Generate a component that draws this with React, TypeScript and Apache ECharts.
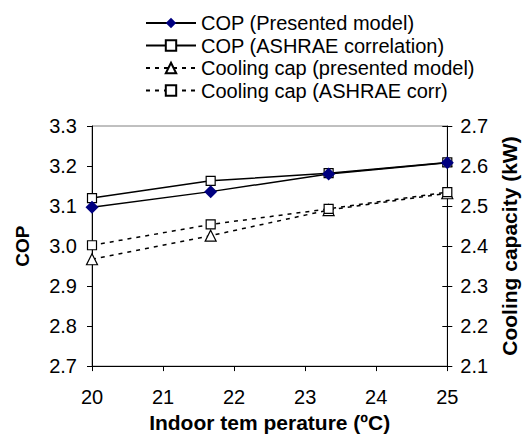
import React, { useEffect, useRef } from "react";
import * as echarts from "echarts";

const xValues = [20, 21.67, 23.33, 25];
const copPresented = [3.097, 3.136, 3.18, 3.208];
const copAshrae = [3.12, 3.163, 3.182, 3.209];
const capPresented = [2.367, 2.426, 2.49, 2.532];
const capAshrae = [2.402, 2.454, 2.493, 2.535];
const seriesNames = [
  "COP (Presented model)",
  "COP (ASHRAE correlation)",
  "Cooling cap (presented model)",
  "Cooling cap (ASHRAE corr)",
];

const FONT = "'Liberation Sans', Arial, sans-serif";
const FS = 20;

export default function App() {
  const ref = useRef<HTMLDivElement>(null);
  useEffect(() => {
    if (!ref.current) return;
    document.body.style.margin = "0";
    const chart = echarts.init(ref.current, undefined, { renderer: "svg" });
    const pair = (ys: number[]) => xValues.map((x, i) => [x, ys[i]]);
    const axisCommon = {
      axisLine: { show: true, lineStyle: { color: "#000", width: 1 } },
      axisTick: { show: true, length: 5, lineStyle: { color: "#000" } },
      splitLine: { show: false },
      axisLabel: { color: "#000", fontSize: FS, fontFamily: FONT },
      nameTextStyle: { color: "#000", fontSize: 21, fontWeight: "bold", fontFamily: FONT },
    };
    chart.setOption({
      animation: false,
      backgroundColor: "#fff",
      textStyle: { fontFamily: FONT },
      legend: {
        orient: "vertical",
        left: 140,
        top: 8,
        itemWidth: 50,
        itemHeight: 13,
        itemGap: 2.5,
        textStyle: { color: "#000", fontSize: FS, fontFamily: FONT },
        data: seriesNames,
      },
      grid: {
        left: 92,
        right: 77,
        top: 126,
        bottom: 66,
        containLabel: false,
        show: true,
        borderColor: "#808080",
        borderWidth: 1,
        backgroundColor: "transparent",
      },
      xAxis: {
        type: "value",
        min: 20,
        max: 25,
        interval: 1,
        name: "Indoor tem perature (ºC)",
        nameLocation: "middle",
        nameGap: 40,
        ...axisCommon,
        axisLabel: { ...axisCommon.axisLabel, margin: 21 },
      },
      yAxis: [
        {
          type: "value",
          min: 2.7,
          max: 3.3,
          interval: 0.1,
          name: "COP",
          nameLocation: "middle",
          nameGap: 60,
          ...axisCommon,
          nameTextStyle: { ...axisCommon.nameTextStyle, fontSize: 19 },
          axisLabel: { ...axisCommon.axisLabel, formatter: (v: number) => v.toFixed(1), margin: 15 },
        },
        {
          type: "value",
          min: 2.1,
          max: 2.7,
          interval: 0.1,
          position: "right",
          name: "Cooling capacity (kW)",
          nameLocation: "middle",
          nameGap: 51,
          ...axisCommon,
          axisLabel: { ...axisCommon.axisLabel, formatter: (v: number) => v.toFixed(1), margin: 13 },
        },
        {
          type: "value",
          min: 2.1,
          max: 2.7,
          interval: 0.1,
          position: "right",
          offset: 0,
          axisLine: { show: false },
          axisTick: { show: true, inside: true, length: 5, lineStyle: { color: "#000" } },
          axisLabel: { show: false },
          splitLine: { show: false },
        },
      ],
      series: [
        {
          name: seriesNames[0],
          type: "line",
          yAxisIndex: 0,
          data: pair(copPresented),
          symbol: "diamond",
          symbolSize: 13,
          itemStyle: { color: "#000080" },
          lineStyle: { color: "#000", width: 1.5 },
          z: 4,
        },
        {
          name: seriesNames[1],
          type: "line",
          yAxisIndex: 0,
          data: pair(copAshrae),
          symbol: "rect",
          symbolSize: 9,
          itemStyle: { color: "#fff", borderColor: "#000", borderWidth: 1.2 },
          lineStyle: { color: "#000", width: 1.5 },
          z: 3,
        },
        {
          name: seriesNames[2],
          type: "line",
          yAxisIndex: 1,
          data: pair(capPresented),
          symbol: "triangle",
          symbolSize: 11,
          itemStyle: { color: "#fff", borderColor: "#000", borderWidth: 1.2 },
          lineStyle: { color: "#000", width: 1.5, type: [4, 5] },
          z: 3,
        },
        {
          name: seriesNames[3],
          type: "line",
          yAxisIndex: 1,
          data: pair(capAshrae),
          symbol: "rect",
          symbolSize: 9,
          itemStyle: { color: "#fff", borderColor: "#000", borderWidth: 1.2 },
          lineStyle: { color: "#000", width: 1.5, type: [4, 5] },
          z: 3,
        },
      ],
    });
    return () => chart.dispose();
  }, []);
  return <div ref={ref} style={{ width: 528, height: 438, position: "absolute", left: 0, top: 0 }} />;
}
